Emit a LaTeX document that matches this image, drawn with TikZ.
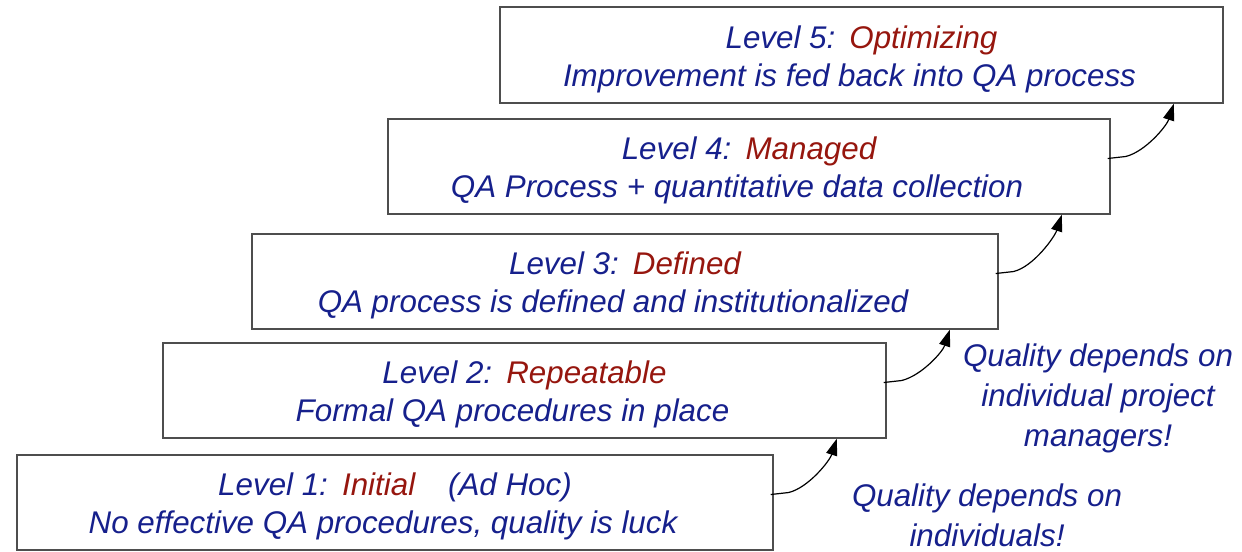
\documentclass[tikz,border=0pt]{standalone}
\usepackage{fontspec}
\setmainfont{Liberation Sans}
\usetikzlibrary{arrows.meta,calc}
\definecolor{qblue}{RGB}{22,32,140}
\definecolor{qred}{RGB}{150,22,14}
\definecolor{qedge}{RGB}{78,78,78}
\newcommand{\topstrut}{\rule{0pt}{23pt}}
\newcommand{\linetwo}[1]{#1\hspace*{18pt}}
\begin{document}
\begin{tikzpicture}[x=0.75pt,y=-0.75pt,
  lvl/.style={draw=qedge,line width=1.1pt,rectangle,inner sep=0pt,minimum height=71.25pt,
    align=center,text=qblue,font=\fontsize{23.5}{28.5}\selectfont\itshape},
  note/.style={align=center,text=qblue,font=\fontsize{23.5}{30}\selectfont\itshape},
  conn/.style={-{Triangle[length=12.5pt,width=8.5pt]},line width=0.9pt,black}]
\useasboundingbox (0,0) rectangle (1242,551);
\node[lvl,minimum width=567pt] (l1) at (395,502.5)
  {\topstrut Level 1:\hspace{0.45em}\textcolor{qred}{Initial}\hspace{1.05em}(Ad Hoc)\\\linetwo{No effective QA procedures, quality is luck}};
\node[lvl,minimum width=542.25pt] (l2) at (524.5,390.5)
  {\topstrut Level 2:\hspace{0.45em}\textcolor{qred}{Repeatable}\\\linetwo{Formal QA procedures in place}};
\node[lvl,minimum width=559.5pt] (l3) at (625,281.5)
  {\topstrut Level 3:\hspace{0.45em}\textcolor{qred}{Defined}\\\linetwo{QA process is defined and institutionalized}};
\node[lvl,minimum width=541.5pt] (l4) at (749,166.5)
  {\topstrut Level 4:\hspace{0.45em}\textcolor{qred}{Managed}\\\linetwo{QA Process + quantitative data collection}};
\node[lvl,minimum width=542.25pt,minimum height=72pt] (l5) at (861.5,55)
  {\topstrut Level 5:\hspace{0.45em}\textcolor{qred}{Optimizing}\\\linetwo{Improvement is fed back into QA process}};
\node[note] (n2) at (1098,398) {Quality depends on\\individual project\\managers!};
\node[note] (n1) at (987,515) {Quality depends on\\individuals!};
\foreach \a/\b in {l1/l2,l2/l3,l3/l4,l4/l5}{
  \draw[conn] ($(\a.east)+(-3,-8)$) -- ++(18,-2) .. controls +(20,-5) and +(-7,22) .. ($(\a.east|-\b.south)+(63,0)$);
}
\end{tikzpicture}
\end{document}
